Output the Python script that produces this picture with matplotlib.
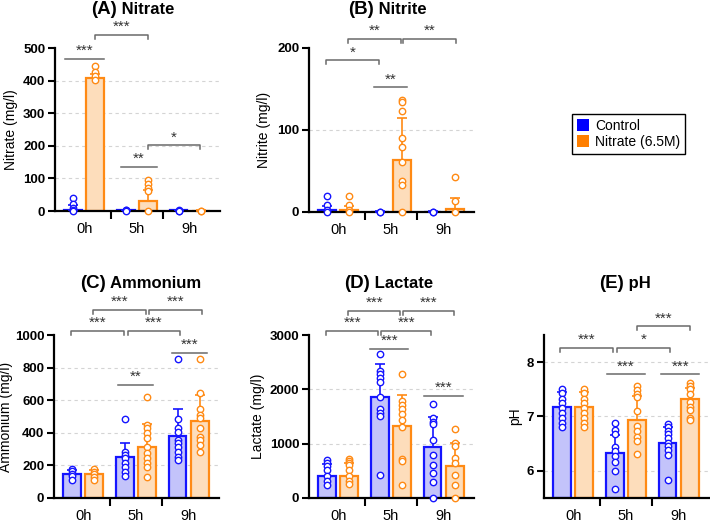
import matplotlib
matplotlib.use('Agg')
import matplotlib.pyplot as plt
from matplotlib.patches import Patch

plt.rcParams['font.family'] = ['Liberation Sans', 'DejaVu Sans']

# time points
times = ['0h', '5h', '9h']

# (A) Nitrate
nitrate_ctrl_mean = [4, 2, 2]
nitrate_ctrl_top = [18, 3, 3]
nitrate_ctrl_pts = [[40, 22, 9, 4, 0], [2, 2, 1], [2, 1, 1]]
nitrate_trt_mean = [407, 30, 1]
nitrate_trt_top = [421, 65, 2]
nitrate_trt_pts = [[444, 425, 413, 403], [96, 84, 72, 60, 0], [1, 0]]

# (B) Nitrite
nitrite_ctrl_mean = [2, 0.5, 0.5]
nitrite_ctrl_top = [7, 1, 1]
nitrite_ctrl_pts = [[20, 8, 3, 0], [0, 0], [0, 0]]
nitrite_trt_mean = [2, 64, 4]
nitrite_trt_top = [7, 115, 17]
nitrite_trt_pts = [[20, 8, 3, 0], [137, 134, 123, 90, 79, 61, 38, 33, 0], [43, 13, 0]]

# (C) Ammonium
amm_ctrl_mean = [147, 249, 382]
amm_ctrl_top = [173, 335, 548]
amm_ctrl_pts = [[180, 163, 150, 133, 112],
                [483, 284, 264, 243, 217, 192, 162, 135],
                [851, 483, 427, 407, 356, 335, 315, 284, 254, 233]]
amm_trt_mean = [147, 315, 470]
amm_trt_top = [172, 454, 630]
amm_trt_pts = [[178, 160, 145, 130, 112],
               [622, 448, 427, 397, 366, 315, 274, 243, 213, 192, 131],
               [851, 642, 544, 509, 489, 427, 376, 356, 325, 284]]

# (D) Lactate
lac_ctrl_mean = [411, 1865, 945]
lac_ctrl_top = [632, 2466, 1485]
lac_ctrl_pts = [[705, 644, 595, 521, 399, 319, 239],
                [2644, 2337, 2276, 2215, 2141, 1853, 1632, 1570, 1509, 423],
                [1724, 1466, 1405, 1362, 1067, 791, 607, 454, 300, 0]]
lac_trt_mean = [411, 1331, 595]
lac_trt_top = [640, 1896, 1006]
lac_trt_pts = [[710, 680, 640, 600, 520, 400, 320, 250],
               [2276, 1785, 1712, 1632, 1540, 1436, 1301, 712, 680, 239],
               [1264, 1006, 957, 730, 650, 423, 239, 0]]

# (E) pH
ph_ctrl_mean = [7.18, 6.33, 6.52]
ph_ctrl_top = [7.45, 6.66, 6.80]
ph_ctrl_pts = [[7.51, 7.43, 7.33, 7.24, 7.15, 7.06, 6.97, 6.88, 6.80],
               [6.88, 6.75, 6.68, 6.43, 6.36, 6.27, 6.17, 6.00, 5.67],
               [6.86, 6.80, 6.74, 6.68, 6.60, 6.52, 6.46, 6.39, 6.30, 5.83]]
ph_trt_mean = [7.18, 6.94, 7.32]
ph_trt_top = [7.45, 7.38, 7.53]
ph_trt_pts = [[7.51, 7.43, 7.33, 7.24, 7.15, 7.06, 6.97, 6.88, 6.80],
              [7.56, 7.49, 7.42, 7.36, 7.10, 6.82, 6.74, 6.63, 6.54, 6.31],
              [7.62, 7.56, 7.50, 7.41, 7.26, 7.18, 7.12, 6.97, 6.94]]

# significance marks: (x1, x2, y, stars, bracket?)
sig_a = [(-0.36, 0.38, 466, '***', False), (0.2, 1.2, 540, '***', True),
         (0.7, 1.38, 135, '**', False), (1.2, 2.2, 202, '*', True)]
sig_b = [(-0.22, 0.78, 185, '*', True), (0.18, 1.19, 211, '**', True),
         (1.23, 2.23, 211, '**', True), (0.68, 1.3, 152, '**', False)]
sig_c = [(-0.22, 0.77, 1025, '***', True), (0.19, 1.19, 1153, '***', True),
         (0.84, 1.84, 1025, '***', True), (1.25, 2.25, 1153, '***', True),
         (0.66, 1.32, 693, '**', False), (1.68, 2.34, 890, '***', False)]
sig_d = [(-0.22, 0.76, 3075, '***', True), (0.19, 1.18, 3443, '***', True),
         (0.82, 1.76, 3075, '***', True), (1.23, 2.2, 3443, '***', True),
         (0.6, 1.33, 2743, '***', False), (1.62, 2.36, 1878, '***', False)]
sig_e = [(-0.24, 0.76, 8.26, '***', True), (0.83, 1.83, 8.26, '*', True),
         (1.2, 2.22, 8.66, '***', True), (0.64, 1.36, 7.78, '***', False),
         (1.66, 2.39, 7.78, '***', False)]

blue_edge = '#1515FF'
blue_fill = '#C3C3FA'
orange_edge = '#FF8A14'
orange_fill = '#FDDDBB'
sig_col = '#6a6a6a'

W, H = 710, 522
fig = plt.figure(figsize=(W / 100, H / 100), dpi=100)


def px_axes(left, top, bottom, width=165):
    # axes placed in pixel coordinates of the figure
    return fig.add_axes([left / W, 1 - bottom / H, width / W, (bottom - top) / H])


def panel(ax, cm, ct, cp, tm, tt, tp, ylim, yticks, ylabel, sig, lab_x):
    off = 0.21
    bw = 0.33
    for i in range(len(times)):
        for x, m, top, pts, ec, fc in [(i - off, cm[i], ct[i], cp[i], blue_edge, blue_fill),
                                       (i + off, tm[i], tt[i], tp[i], orange_edge, orange_fill)]:
            ax.bar(x, m - ylim[0], bottom=ylim[0], width=bw, color=fc, edgecolor=ec,
                   linewidth=1.6, zorder=2)
            ax.errorbar(x, m, yerr=[[0], [top - m]], color=ec, lw=1.2, capsize=3.5,
                        capthick=1.2, zorder=3)
            ax.plot([x] * len(pts), pts, 'o', ms=4.6, mfc='white', mec=ec, mew=1.0,
                    zorder=4, clip_on=False)
    for t in yticks:
        if ylim[0] < t < ylim[1]:
            ax.axhline(t, color='#d4d4d4', lw=0.8, ls=(0, (3, 3)), zorder=0)
    ax.set_xlim(-0.55, 2.57)
    ax.set_ylim(*ylim)
    ax.set_yticks(yticks)
    ax.set_xticks([0, 1, 2])
    ax.set_xticklabels(times, fontsize=10.5)
    ax.set_xticks([0.5, 1.5], minor=True)
    ax.tick_params(axis='x', which='major', length=0, pad=8)
    ax.tick_params(axis='x', which='minor', length=6, width=1.5, direction='out')
    ax.tick_params(axis='y', length=5, width=1.5, direction='out', pad=2)
    for lbl in ax.get_yticklabels():
        lbl.set_fontweight('bold')
        lbl.set_fontsize(9.5)
    ax.set_ylabel(ylabel, fontsize=10)
    ax.yaxis.set_label_coords(lab_x, 0.5)
    for s in ['top', 'right']:
        ax.spines[s].set_visible(False)
    for s in ['left', 'bottom']:
        ax.spines[s].set_linewidth(1.6)
    h = (ylim[1] - ylim[0]) * 0.025
    for x1, x2, y, txt, br in sig:
        if br:
            ax.plot([x1, x1, x2, x2], [y - h, y, y, y - h], color=sig_col, lw=1.1,
                    clip_on=False, zorder=5)
        else:
            ax.plot([x1, x2], [y, y], color=sig_col, lw=1.1, clip_on=False, zorder=5)
        ax.text((x1 + x2) / 2, y + h * 0.2, txt, ha='center', va='bottom', fontsize=11,
                color='#333333')


def title(split_x, base_y, tag, name):
    fig.text(split_x / W, 1 - base_y / H, tag, ha='right', va='baseline',
             fontsize=13.5, fontweight='bold')
    fig.text(split_x / W, 1 - base_y / H, ' ' + name, ha='left', va='baseline',
             fontsize=12, fontweight='bold')


ax_a = px_axes(55, 48, 211)
panel(ax_a, nitrate_ctrl_mean, nitrate_ctrl_top, nitrate_ctrl_pts, nitrate_trt_mean,
      nitrate_trt_top, nitrate_trt_pts, (0, 500), [0, 100, 200, 300, 400, 500],
      'Nitrate (mg/l)', sig_a, -0.225)
title(117, 14, '(A)', 'Nitrate')

ax_b = px_axes(309, 48, 212)
panel(ax_b, nitrite_ctrl_mean, nitrite_ctrl_top, nitrite_ctrl_pts, nitrite_trt_mean,
      nitrite_trt_top, nitrite_trt_pts, (0, 200), [0, 100, 200],
      'Nitrite (mg/l)', sig_b, -0.23)
title(374, 14, '(B)', 'Nitrite')

ax_c = px_axes(54, 335, 498)
panel(ax_c, amm_ctrl_mean, amm_ctrl_top, amm_ctrl_pts, amm_trt_mean, amm_trt_top,
      amm_trt_pts, (0, 1000), [0, 200, 400, 600, 800, 1000],
      'Ammonium (mg/l)', sig_c, -0.25)
title(106, 288, '(C)', 'Ammonium')

ax_d = px_axes(309, 335, 498)
panel(ax_d, lac_ctrl_mean, lac_ctrl_top, lac_ctrl_pts, lac_trt_mean, lac_trt_top,
      lac_trt_pts, (0, 3000), [0, 1000, 2000, 3000],
      'Lactate (mg/l)', sig_d, -0.267)
title(370, 288, '(D)', 'Lactate')

ax_e = px_axes(544, 335, 498)
panel(ax_e, ph_ctrl_mean, ph_ctrl_top, ph_ctrl_pts, ph_trt_mean, ph_trt_top,
      ph_trt_pts, (5.5, 8.5), [6, 7, 8], 'pH', sig_e, -0.133)
title(624, 288, '(E)', 'pH')

# legend
handles = [Patch(facecolor='#0000FF', edgecolor='none', label='Control'),
           Patch(facecolor='#FF7F00', edgecolor='none', label='Nitrate (6.5M)')]
leg = fig.legend(handles=handles, loc='upper left', bbox_to_anchor=(572 / W, 1 - 114 / H),
                 fontsize=10, frameon=True, fancybox=False, edgecolor='black',
                 framealpha=1, handlelength=0.9, handleheight=0.9, borderpad=0.35,
                 labelspacing=0.15, handletextpad=0.4, borderaxespad=0)
leg.get_frame().set_linewidth(1.0)

plt.savefig('out.png', dpi=100)
